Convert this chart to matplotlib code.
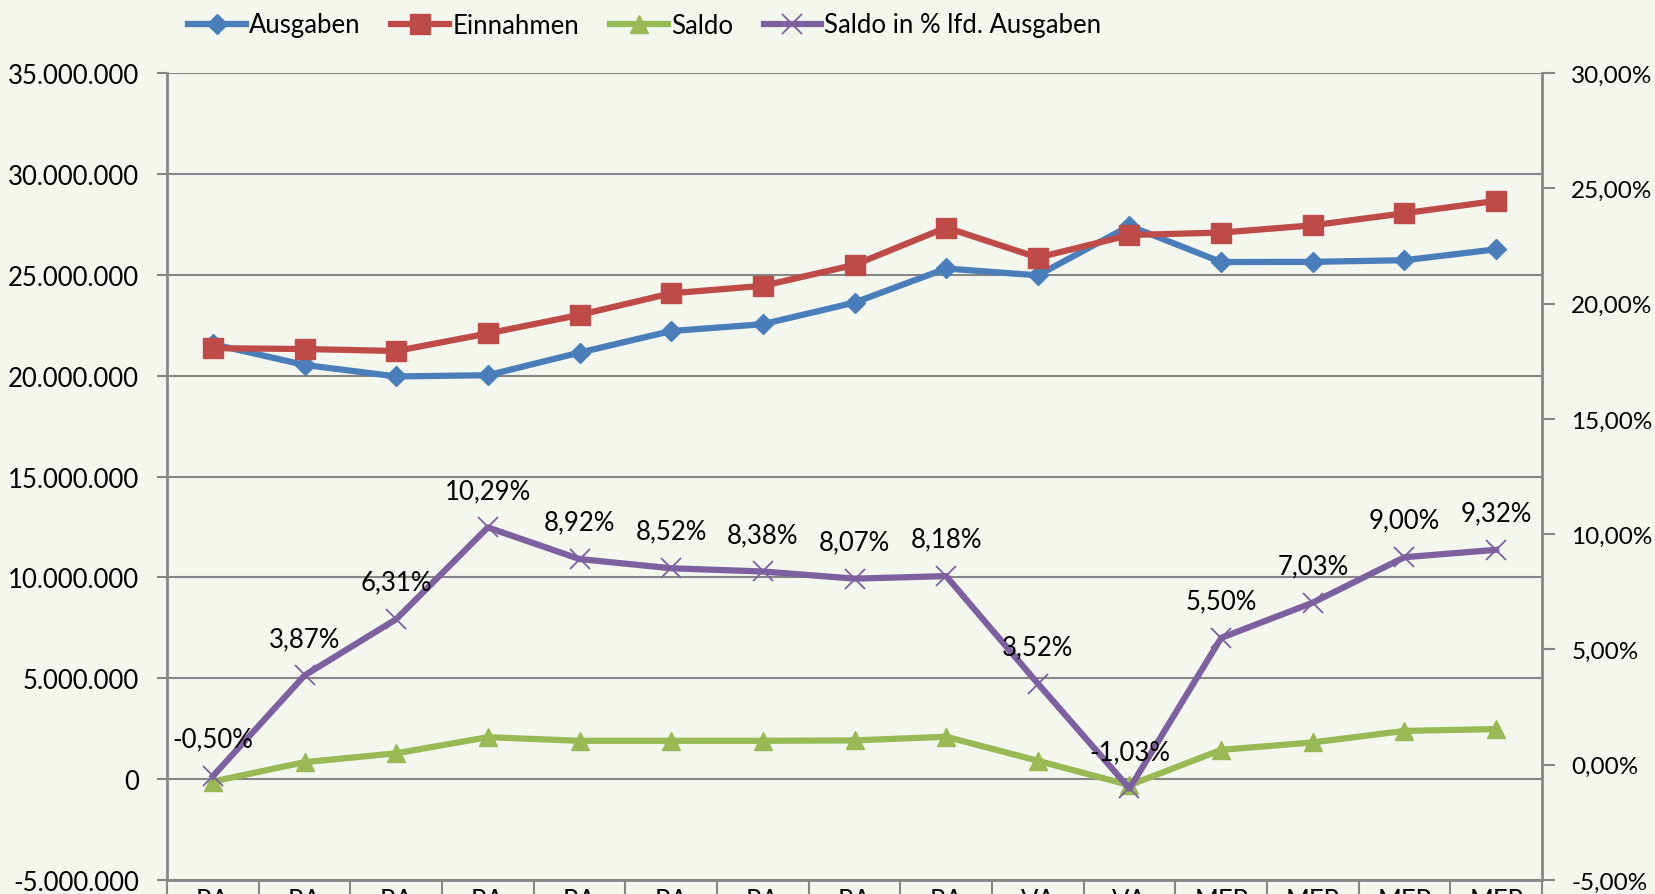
import matplotlib
matplotlib.use("Agg")
import matplotlib.pyplot as plt
from matplotlib.ticker import FixedLocator, FuncFormatter
import numpy as np

plt.rcParams['font.family'] = ['Lato', 'DejaVu Sans']

categories = ["RA", "RA", "RA", "RA", "RA", "RA", "RA", "RA", "RA",
              "VA", "VA", "MFP", "MFP", "MFP", "MFP"]
ausgaben = [21.56e6, 20.53e6, 19.96e6, 20.02e6, 21.14e6, 22.21e6, 22.55e6, 23.62e6,
            25.31e6, 24.97e6, 27.42e6, 25.63e6, 25.64e6, 25.72e6, 26.26e6]
einnahmen = [21.36e6, 21.32e6, 21.22e6, 22.09e6, 23.01e6, 24.08e6, 24.45e6, 25.49e6,
             27.34e6, 25.85e6, 26.97e6, 27.09e6, 27.45e6, 28.05e6, 28.66e6]
saldo = [-0.12e6, 0.84e6, 1.28e6, 2.08e6, 1.90e6, 1.90e6, 1.90e6, 1.92e6,
         2.10e6, 0.91e6, -0.30e6, 1.45e6, 1.82e6, 2.39e6, 2.48e6]
saldo_pct = [-0.50, 3.87, 6.31, 10.29, 8.92, 8.52, 8.38, 8.07, 8.18,
             3.52, -1.03, 5.50, 7.03, 9.00, 9.32]
series_names = ["Ausgaben", "Einnahmen", "Saldo", "Saldo in % lfd. Ausgaben"]

BG = '#F4F7EE'
GRID = '#868686'
C_BLUE = '#4A7EBB'
C_RED = '#BE4B48'
C_GREEN = '#98B954'
C_PURPLE = '#7D60A0'
FS = 18.5

W, H = 1656, 895
fig = plt.figure(figsize=(W / 100, H / 100), dpi=100, facecolor=BG)
ax = fig.add_axes([167 / W, 1 - 881 / H, (1542 - 167) / W, (881 - 74) / H])
ax.set_facecolor(BG)
x = np.arange(len(categories))

lw = 4.5
l1, = ax.plot(x, ausgaben, color=C_BLUE, lw=lw, marker='D', ms=10.5, label=series_names[0], zorder=3)
l2, = ax.plot(x, einnahmen, color=C_RED, lw=lw, marker='s', ms=14, label=series_names[1], zorder=4)
l3, = ax.plot(x, saldo, color=C_GREEN, lw=lw, marker='^', ms=13, label=series_names[2], zorder=5)

ax.set_xlim(-0.5, len(categories) - 0.5)
ax.set_ylim(-5e6, 35e6)
ax.yaxis.set_major_locator(FixedLocator(np.arange(-5e6, 35.1e6, 5e6)))


def de_thousands(v, pos=None):
    v = int(round(v))
    s = f"{abs(v):,}".replace(",", ".")
    return ("-" if v < 0 else "") + s


ax.yaxis.set_major_formatter(FuncFormatter(de_thousands))
ax.grid(axis='y', color=GRID, lw=1.5, zorder=1)
ax.set_axisbelow(True)

for side in ['top', 'right']:
    ax.spines[side].set_visible(False)
for side in ['left', 'bottom']:
    ax.spines[side].set_color(GRID)
    ax.spines[side].set_linewidth(2)

ax.tick_params(axis='y', direction='out', length=7, width=1.5, color=GRID,
               labelsize=FS, pad=13)
ax.set_xticks(x)
ax.set_xticklabels(categories)
ax.set_xticks(np.arange(-0.5, len(categories), 1.0), minor=True)
ax.tick_params(axis='x', which='major', length=0, labelsize=FS, pad=6)
ax.tick_params(axis='x', which='minor', direction='out', length=16, width=1.5, color=GRID)

ax2 = ax.twinx()
ax2.set_ylim(-5, 30)
ax2.yaxis.set_major_locator(FixedLocator(np.arange(-5, 30.1, 5)))
ax2.yaxis.set_major_formatter(FuncFormatter(lambda v, p: f"{v:.2f}%".replace(".", ",")))
l4, = ax2.plot(x, saldo_pct, color=C_PURPLE, lw=lw, marker='x', ms=15, mew=1.3,
               label=series_names[3], zorder=6)
for side in ['top', 'left', 'bottom']:
    ax2.spines[side].set_visible(False)
ax2.spines['right'].set_color(GRID)
ax2.spines['right'].set_linewidth(2)
ax2.tick_params(axis='y', direction='out', length=9, width=1.5, color=GRID,
                labelsize=17.5, pad=12)

for xi, v in zip(x, saldo_pct):
    ax2.annotate(f"{v:.2f}%".replace(".", ","), (xi, v), xytext=(0, 37),
                 textcoords='offset pixels', ha='center', va='center',
                 fontsize=FS, color='black', zorder=10, annotation_clip=False)

fig.legend(handles=[l1, l2, l3, l4], loc='center left',
           bbox_to_anchor=(188 / W, 1 - 26 / H), ncol=4, frameon=False,
           fontsize=FS, numpoints=1, handlelength=2.25, handletextpad=0.12,
           columnspacing=1.2, borderpad=0, borderaxespad=0)

fig.savefig("out.png", dpi=100, facecolor=BG)
